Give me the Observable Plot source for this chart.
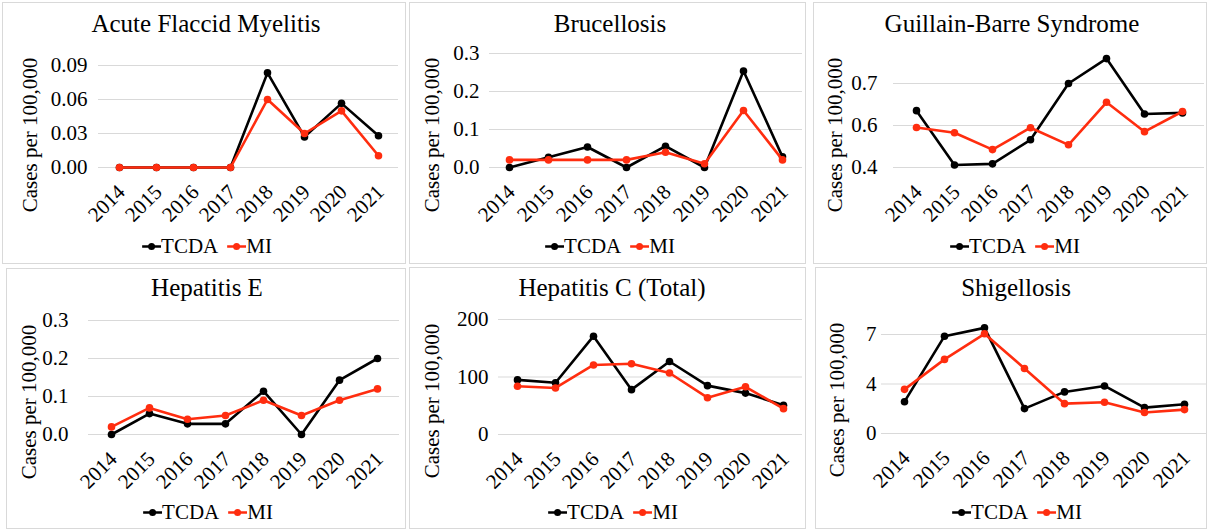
<!DOCTYPE html>
<html><head><meta charset="utf-8">
<script src="https://cdn.jsdelivr.net/npm/d3@7"></script>
<script src="https://cdn.jsdelivr.net/npm/@observablehq/plot@0.6"></script>
<style>
body{margin:0;background:#fff;font-family:'Liberation Serif','Times New Roman',Times,'DejaVu Serif',serif;color:#000;}
#root{position:relative;width:1207px;height:529px;overflow:hidden;background:#fff;}
.box{position:absolute;border:1px solid #d9d9d9;box-sizing:border-box;}
.title{position:absolute;font-size:25px;line-height:25px;white-space:nowrap;transform:translateX(-50%);}
.ylab{position:absolute;font-size:21px;line-height:21px;white-space:nowrap;transform:translate(-50%,-50%) rotate(-90deg);}
.legend{position:absolute;display:flex;align-items:center;gap:9px;font-size:21px;line-height:21px;white-space:nowrap;transform:translate(-50%,-50%);}
.legend span{display:flex;align-items:center;}
.plotwrap{position:absolute;}
.plotwrap svg{overflow:visible;}
.plotwrap svg text{font-family:'Liberation Serif','Times New Roman',Times,'DejaVu Serif',serif !important;}
</style>
</head><body><div id="root"></div>
<script>
// ---------- data ----------
const years = ["2014","2015","2016","2017","2018","2019","2020","2021"];
const seriesNames = ["TCDA","MI"];
const seriesColors = ["#000000","#ff2d0f"];

const afmTitle = "Acute Flaccid Myelitis";
const afmTCDA = [0,0,0,0,0.0835,0.027,0.0566,0.028];
const afmMI   = [0,0,0,0,0.060,0.030,0.050,0.0104];
const afmTicks = [0,0.03,0.06,0.09];
const afmTickLabels = ["0.00","0.03","0.06","0.09"];

const brucTitle = "Brucellosis";
const brucTCDA = [0,0.027,0.054,0,0.056,0,0.254,0.028];
const brucMI   = [0.02,0.02,0.02,0.02,0.04,0.01,0.15,0.02];
const brucTicks = [0,0.1,0.2,0.3];
const brucTickLabels = ["0.0","0.1","0.2","0.3"];

const gbsTitle = "Guillain-Barre Syndrome";
const gbsTCDA = [0.603,0.409,0.413,0.499,0.700,0.789,0.591,0.595];
const gbsMI   = [0.543,0.524,0.464,0.542,0.481,0.633,0.528,0.600];
const gbsTicks = [0.4,0.55,0.7];
const gbsTickLabels = ["0.4","0.6","0.7"];

const hepETitle = "Hepatitis E";
const hepETCDA = [0,0.055,0.028,0.028,0.114,0,0.143,0.2];
const hepEMI   = [0.02,0.07,0.04,0.05,0.09,0.05,0.09,0.12];
const hepETicks = [0,0.1,0.2,0.3];
const hepETickLabels = ["0.0","0.1","0.2","0.3"];

const hepCTitle = "Hepatitis C (Total)";
const hepCTCDA = [95,90,171,78,127,85,72,51];
const hepCMI   = [84,81,121,123,107,64,83,45];
const hepCTicks = [0,100,200];
const hepCTickLabels = ["0","100","200"];

const shigTitle = "Shigellosis";
const shigTCDA = [2.25,6.88,7.47,1.76,2.94,3.36,1.83,2.07];
const shigMI   = [3.12,5.24,7.05,4.60,2.11,2.21,1.48,1.69];
const shigTicks = [0,3.5,7];
const shigTickLabels = ["0","4","7"];

const yLabel = "Cases per 100,000";

// ---------- layout (page pixels) ----------
const panels = [
  {title:afmTitle, tcda:afmTCDA, mi:afmMI, ticks:afmTicks, labels:afmTickLabels,
   box:[2,2,406,264], gx:[98,398], gy:[167,65], pad:11, tcx:206, tby:32, ylx:30, yly:135, lcx:207, lcy:246},
  {title:brucTitle, tcda:brucTCDA, mi:brucMI, ticks:brucTicks, labels:brucTickLabels,
   box:[409,2,806,264], gx:[489,802], gy:[167,53], pad:10, tcx:610, tby:32, ylx:432, yly:135, lcx:610, lcy:246},
  {title:gbsTitle, tcda:gbsTCDA, mi:gbsMI, ticks:gbsTicks, labels:gbsTickLabels,
   box:[813,2,1207,264], gx:[893,1204], gy:[167,83], pad:16, tcx:1012, tby:32, ylx:835, yly:135, lcx:1015, lcy:246},
  {title:hepETitle, tcda:hepETCDA, mi:hepEMI, ticks:hepETicks, labels:hepETickLabels,
   box:[6,268,406,529], gx:[88,399], gy:[434,320], pad:20, tcx:207, tby:296, ylx:29, yly:402, lcx:208, lcy:512},
  {title:hepCTitle, tcda:hepCTCDA, mi:hepCMI, ticks:hepCTicks, labels:hepCTickLabels,
   box:[409,267,806,529], gx:[498,802], gy:[434,319], pad:10, tcx:612, tby:296, ylx:432, yly:401, lcx:613, lcy:512},
  {title:shigTitle, tcda:shigTCDA, mi:shigMI, ticks:shigTicks, labels:shigTickLabels,
   box:[815,267,1207,529], gx:[881,1207], gy:[433,334], pad:5, tcx:1016, tby:296, ylx:837, yly:400, lcx:1017, lcy:512}
];

const FONT = "'Liberation Serif','Times New Roman',Times,'DejaVu Serif',serif";
const root = document.getElementById("root");

function el(tag, cls, css, text){
  const e = document.createElement(tag);
  if (cls) e.className = cls;
  Object.assign(e.style, css || {});
  if (text != null) e.textContent = text;
  return e;
}

function legendSymbol(color){
  const ns = "http://www.w3.org/2000/svg";
  const s = document.createElementNS(ns,"svg");
  s.setAttribute("width","19"); s.setAttribute("height","10");
  const l = document.createElementNS(ns,"line");
  l.setAttribute("x1","0"); l.setAttribute("x2","19"); l.setAttribute("y1","5"); l.setAttribute("y2","5");
  l.setAttribute("stroke",color); l.setAttribute("stroke-width","2.5");
  const c = document.createElementNS(ns,"circle");
  c.setAttribute("cx","9.5"); c.setAttribute("cy","5"); c.setAttribute("r","3.5"); c.setAttribute("fill",color);
  s.appendChild(l); s.appendChild(c);
  return s;
}

for (const p of panels){
  const [x0,y0,x1,y1] = p.box;
  const w = x1 - x0, h = y1 - y0;
  root.appendChild(el("div","box",{left:x0+"px",top:y0+"px",width:w+"px",height:h+"px"}));

  const labelMap = new Map(p.ticks.map((t,i)=>[t,p.labels[i]]));
  const rows = seriesNames.map((s,k)=> years.map((yr,i)=>({year:yr, value:(k===0?p.tcda:p.mi)[i], series:s})));

  const chart = Plot.plot({
    width: w, height: h,
    marginLeft: p.gx[0]-x0, marginRight: x1-p.gx[1],
    marginTop: p.gy[1]-y0, marginBottom: y1-p.gy[0],
    style: {fontFamily: FONT, background:"transparent", color:"#000"},
    x: {type:"point", domain: years, padding: 0.5},
    y: {domain: [p.ticks[0], p.ticks[p.ticks.length-1]]},
    color: {domain: seriesNames, range: seriesColors},
    marks: [
      Plot.ruleY(p.ticks, {stroke:"#d9d9d9", strokeWidth:1, strokeOpacity:1}),
      Plot.axisY({ticks:p.ticks, tickFormat:d=>labelMap.get(d), tickSize:0, tickPadding:p.pad, fontSize:21, fontFamily:FONT, label:null}),
      Plot.axisX({tickSize:0, tickRotate:-45, tickPadding:21, dx:2, fontSize:21, fontFamily:FONT, label:null}),
      ...rows.flatMap(r => [
        Plot.line(r, {x:"year", y:"value", stroke:"series", strokeWidth:2.6}),
        Plot.dot(r, {x:"year", y:"value", fill:"series", r:3.8})
      ])
    ]
  });
  const wrap = el("div","plotwrap",{left:x0+"px",top:y0+"px"});
  wrap.appendChild(chart);
  root.appendChild(wrap);

  root.appendChild(el("div","title",{left:p.tcx+"px",top:(p.tby-21)+"px",fontFamily:FONT},p.title));
  root.appendChild(el("div","ylab",{left:p.ylx+"px",top:p.yly+"px",fontFamily:FONT},yLabel));

  const lg = el("div","legend",{left:p.lcx+"px",top:p.lcy+"px",fontFamily:FONT});
  seriesNames.forEach((s,k)=>{
    const it = el("span");
    it.appendChild(legendSymbol(seriesColors[k]));
    it.appendChild(document.createTextNode(s));
    lg.appendChild(it);
  });
  root.appendChild(lg);
}
</script>
</body></html>
